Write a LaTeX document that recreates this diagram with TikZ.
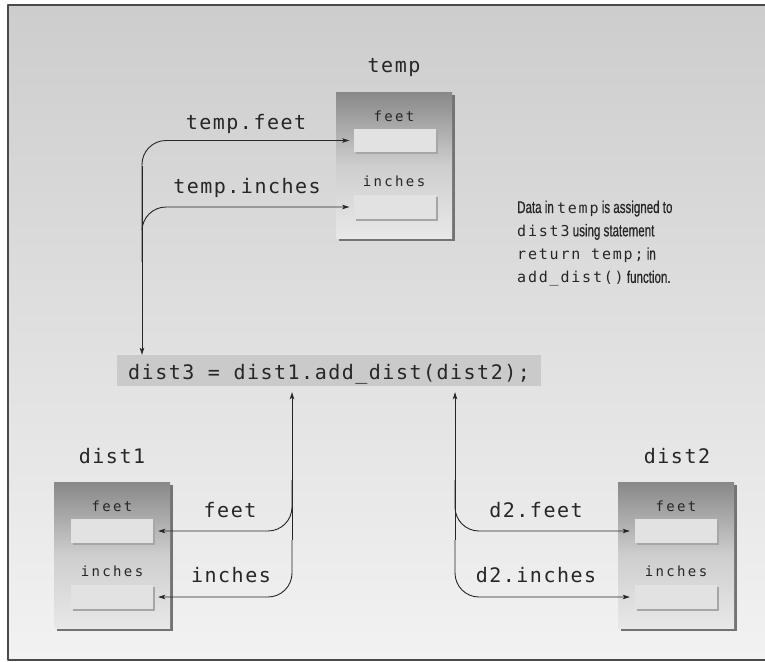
\documentclass[tikz,border=0pt]{standalone}
\usepackage{fontspec}
\usetikzlibrary{arrows.meta,shadows}
\newfontfamily\codefont[LetterSpace=7.5]{DejaVu Sans Mono}
\newfontfamily\fieldfont[LetterSpace=17]{DejaVu Sans Mono}
\newfontfamily\notecode[LetterSpace=12]{DejaVu Sans Mono}
\newfontfamily\notefont[FakeStretch=0.68,FakeBold=0.6]{Liberation Sans}
\newcommand\notetxt[1]{{\notecode\fontsize{15}{23.3}\selectfont #1}}
\definecolor{ink}{HTML}{262626}
\definecolor{bgtop}{HTML}{CDCDCD}
\definecolor{bgbot}{HTML}{F2F2F2}
\definecolor{framegray}{HTML}{4A4A4A}
\definecolor{boxtop}{HTML}{888888}
\definecolor{boxmid}{HTML}{CECECE}
\definecolor{boxbot}{HTML}{E8E8E8}
\definecolor{fieldgray}{HTML}{E2E2E2}
\definecolor{codegray}{HTML}{CACACA}
\tikzset{
  structbox/.style={top color=boxtop,bottom color=boxbot,middle color=boxmid,inner sep=0pt,
    minimum width=116pt,minimum height=146pt,
    general shadow={fill=black!55,shadow xshift=3pt,shadow yshift=-3pt}},
  field/.style={fill=fieldgray,inner sep=0pt,minimum width=82pt,minimum height=24pt,
    general shadow={fill=black!35,shadow xshift=2pt,shadow yshift=-2pt}},
  conn/.style={draw=ink,line width=0.9pt,rounded corners=24pt,
    -{Stealth[length=7pt,width=4.5pt,inset=1.5pt]}},
  lbl/.style={font=\codefont\fontsize{20}{24}\selectfont,text=ink,anchor=base,inner sep=0pt},
  fld/.style={font=\fieldfont\fontsize{14}{16}\selectfont,text=ink,anchor=base,inner sep=0pt},
  note/.style={font=\notefont\fontsize{17}{23.3}\selectfont,text=ink,align=left,inner sep=0pt}
}
\begin{document}
\begin{tikzpicture}[x=1pt,y=-1pt,line join=round]
\useasboundingbox (0,0) rectangle (765,661);
% --- background and frame
\shade[top color=bgtop,bottom color=bgbot] (8,5) rectangle (765,660);
\draw[framegray,line width=1.5pt] (765,5) -- (8,5) -- (8,660) -- (765,660);
% --- temp
\node[lbl] (templbl) at (394,73) {temp};
\node[structbox] (tempbox) at (394,165) {};
\node[fld] at (394,121) {feet};
\node[field,minimum height=23pt] (tempfeet) at (394.5,140.5) {};
\node[fld] at (394,186) {inches};
\node[field] (tempinches) at (394.5,207) {};
% --- statement
\node[lbl,anchor=base west,fill=codegray,inner xsep=11pt,text height=24pt,text depth=7pt] (stmt)
  at (117,379) {dist3 = dist1.add\_dist(dist2);};
% --- dist1
\node[lbl] (d1lbl) at (112,463) {dist1};
\node[structbox] (d1box) at (112,555) {};
\node[fld] at (112,511) {feet};
\node[field] (d1feet) at (112,531) {};
\node[fld] at (112,576) {inches};
\node[field] (d1inches) at (112,597) {};
% --- dist2
\node[lbl] (d2lbl) at (677,463) {dist2};
\node[structbox] (d2box) at (676,555) {};
\node[fld] at (676,511) {feet};
\node[field] (d2feet) at (676,531) {};
\node[fld] at (676,576) {inches};
\node[field] (d2inches) at (676,597) {};
% --- connectors: temp -> dist3
\coordinate (tA) at (142,230);
\coordinate (tB) at (142,262);
\coordinate (tC) at (142,166);
\draw[conn,shorten >=4pt] (tA) |- (tempfeet.west);
\draw[conn,shorten >=4pt] (tB) |- (tempinches.west);
\draw[conn] (tC) -- (tC |- stmt.north);
\node[lbl] at (246,129) {temp.feet};
\node[lbl] at (247,193) {temp.inches};
% --- connectors: dist1
\coordinate (lA) at (292,480);
\coordinate (lB) at (292,540);
\draw[conn,shorten >=6pt] (lB) -- (lB |- stmt.south);
\draw[conn,shorten >=5pt] (lA) |- (d1feet.east);
\draw[conn,shorten >=5pt] (lB) |- (d1inches.east);
\node[lbl] at (230,517) {feet};
\node[lbl] at (231,582) {inches};
% --- connectors: dist2
\coordinate (rA) at (455,480);
\coordinate (rB) at (455,540);
\draw[conn,shorten >=6pt] (rB) -- (rB |- stmt.south);
\draw[conn,shorten >=5pt] (rA) |- (d2feet.west);
\draw[conn,shorten >=5pt] (rB) |- (d2inches.west);
\node[lbl] at (536,517) {d2.feet};
\node[lbl] at (536,582) {d2.inches};
% --- note
\node[note,anchor=north west] (note) at (517,200.5)
  {Data in \notetxt{temp} is assigned to\\
   \notetxt{dist3} using statement\\
   \notetxt{return temp;} in\\
   \notetxt{add\_dist()} function.};
\end{tikzpicture}
\end{document}
